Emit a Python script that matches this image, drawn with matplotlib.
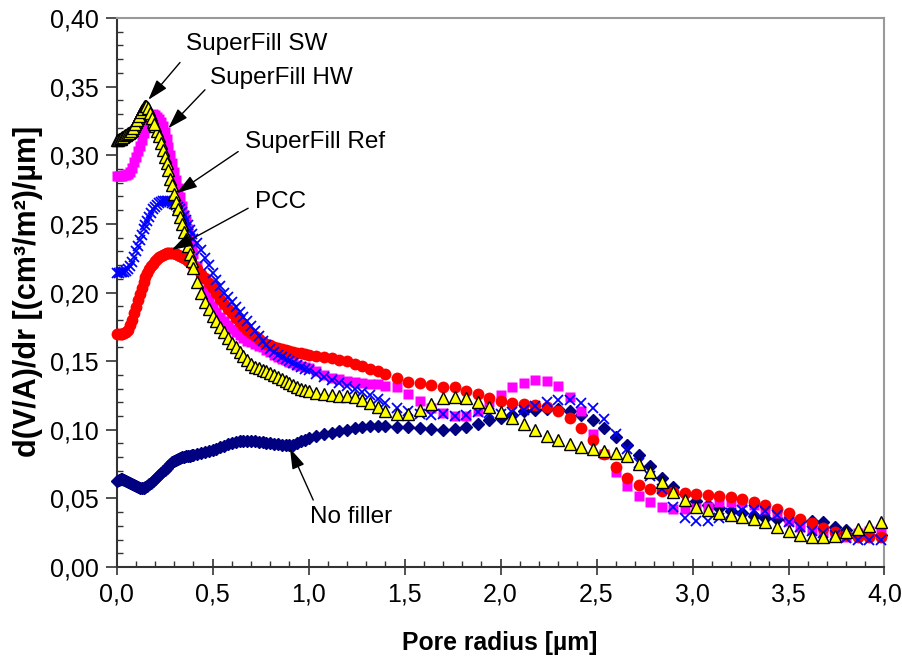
import matplotlib
matplotlib.use("Agg")
import matplotlib.pyplot as plt
from matplotlib.ticker import MultipleLocator, FuncFormatter

plt.rcParams['font.family'] = ['Liberation Sans', 'DejaVu Sans']

# pore radius grid [µm]
radius = [
    0.00, 0.01, 0.02, 0.03, 0.04, 0.05, 0.06, 0.07, 0.08, 0.09,
    0.10, 0.11, 0.12, 0.13, 0.14, 0.15, 0.16, 0.17, 0.18, 0.19,
    0.20, 0.21, 0.22, 0.23, 0.24, 0.25, 0.26, 0.27, 0.28, 0.29,
    0.30, 0.31, 0.32, 0.33, 0.34, 0.35, 0.36, 0.37, 0.38, 0.39,
    0.40,
    0.42, 0.44, 0.46, 0.48, 0.50, 0.52, 0.54, 0.56, 0.58, 0.60,
    0.62, 0.64, 0.66, 0.68, 0.70, 0.72, 0.74, 0.76, 0.78, 0.80,
    0.82, 0.84, 0.86, 0.88, 0.90, 0.92, 0.94, 0.96, 0.98, 1.00,
    1.04, 1.08, 1.12, 1.16, 1.20, 1.24, 1.28, 1.32, 1.36, 1.40,
    1.46, 1.52, 1.58, 1.64, 1.70, 1.76, 1.82, 1.88, 1.94, 2.00,
    2.06, 2.12, 2.18, 2.24, 2.30, 2.36, 2.42, 2.48, 2.54, 2.60,
    2.66, 2.72, 2.78, 2.84, 2.90, 2.96, 3.02, 3.08, 3.14, 3.20,
    3.26, 3.32, 3.38, 3.44, 3.50, 3.56, 3.62, 3.68, 3.74, 3.80,
    3.86, 3.92, 3.98,
]

no_filler = [
    0.063, 0.0635, 0.064, 0.0638, 0.0632, 0.0625, 0.0618, 0.061, 0.0602, 0.0595,
    0.0588, 0.0582, 0.0578, 0.0576, 0.0577, 0.0582, 0.059, 0.0602, 0.0615, 0.0628,
    0.0642, 0.0656, 0.067, 0.0683, 0.0697, 0.071, 0.0722, 0.0735, 0.0748, 0.0762,
    0.0772, 0.0781, 0.0788, 0.0795, 0.08, 0.0805, 0.0808, 0.081, 0.0812, 0.0815,
    0.0818,
    0.0822, 0.0828, 0.0835, 0.0842, 0.085, 0.086, 0.0872, 0.0885, 0.0897, 0.0907,
    0.0914, 0.0918, 0.092, 0.092, 0.0918, 0.0915, 0.0912, 0.091, 0.0907, 0.0903,
    0.0898, 0.0893, 0.0889, 0.0886, 0.0887, 0.0892, 0.0902, 0.0915, 0.0928, 0.094,
    0.0957, 0.097, 0.0978, 0.0988, 0.1, 0.1012, 0.102, 0.1024, 0.1025, 0.1024,
    0.1022, 0.102, 0.1012, 0.1002, 0.0995, 0.1005, 0.102, 0.104, 0.1068, 0.1085,
    0.111, 0.1135, 0.1145, 0.115, 0.115, 0.1135, 0.111, 0.107, 0.101, 0.095,
    0.0888, 0.0815, 0.0735, 0.0648, 0.058, 0.053, 0.048, 0.0455, 0.043, 0.041,
    0.0395, 0.0375, 0.036, 0.0348, 0.034, 0.0336, 0.0333, 0.0325, 0.0292, 0.0268,
    0.0245, 0.0232, 0.023,
]

superfill_sw = [
    0.311, 0.3115, 0.312, 0.313, 0.314, 0.315, 0.316, 0.317, 0.3185, 0.321,
    0.324, 0.327, 0.330, 0.333, 0.335, 0.336, 0.3355, 0.333, 0.329, 0.3245,
    0.321, 0.318, 0.314, 0.309, 0.304, 0.299, 0.294, 0.289, 0.283, 0.278,
    0.272, 0.266, 0.261, 0.255, 0.250, 0.244, 0.239, 0.234, 0.228, 0.223,
    0.218,
    0.208, 0.200, 0.193, 0.188, 0.183, 0.179, 0.175, 0.171, 0.167, 0.163,
    0.160, 0.157, 0.154, 0.151, 0.148, 0.146, 0.1447, 0.1437, 0.1425, 0.1412,
    0.140, 0.1385, 0.137, 0.1355, 0.134, 0.1327, 0.1313, 0.130, 0.129, 0.128,
    0.1268, 0.126, 0.1253, 0.1248, 0.1243, 0.1236, 0.122, 0.1195, 0.1165, 0.1135,
    0.1113, 0.1118, 0.1147, 0.119, 0.1235, 0.1242, 0.1228, 0.1205, 0.1165, 0.1128,
    0.1083, 0.104, 0.0995, 0.0953, 0.0925, 0.0893, 0.0875, 0.0862, 0.0847, 0.0834,
    0.0806, 0.0753, 0.069, 0.062, 0.0545, 0.0486, 0.044, 0.0412, 0.0393, 0.0378,
    0.0365, 0.0348, 0.0325, 0.0293, 0.026, 0.0232, 0.0218, 0.0215, 0.0225, 0.0252,
    0.0277, 0.030, 0.0325,
]

# SuperFill SW was measured more densely at small radii
radius_sw_fine = [
    0.005, 0.015, 0.025, 0.035, 0.045, 0.055, 0.065, 0.075, 0.085, 0.095,
    0.105, 0.115, 0.125, 0.135, 0.145, 0.155, 0.165, 0.175, 0.185, 0.195,
]
superfill_sw_fine = [
    0.3112, 0.3118, 0.3125, 0.3135, 0.3145, 0.3155, 0.3165, 0.3177, 0.3197, 0.3225,
    0.3255, 0.3285, 0.3315, 0.334, 0.3357, 0.336, 0.3345, 0.331, 0.327, 0.3228,
]

superfill_hw = [
    0.285, 0.285, 0.285, 0.2852, 0.2855, 0.2858, 0.2862, 0.288, 0.291, 0.295,
    0.299, 0.303, 0.307, 0.311, 0.316, 0.320, 0.324, 0.327, 0.329, 0.330,
    0.3295, 0.328, 0.3265, 0.324, 0.321, 0.317, 0.312, 0.306, 0.300, 0.294,
    0.288, 0.282, 0.276, 0.2695, 0.263, 0.2565, 0.252, 0.246, 0.240, 0.234,
    0.228,
    0.219, 0.210, 0.202, 0.195, 0.190, 0.186, 0.1825, 0.179, 0.176, 0.1735,
    0.171, 0.1688, 0.1668, 0.165, 0.1637, 0.1625, 0.1612, 0.160, 0.1583, 0.1565,
    0.1547, 0.153, 0.1518, 0.1506, 0.1495, 0.1485, 0.1475, 0.1465, 0.1458, 0.145,
    0.1425, 0.140, 0.138, 0.1368, 0.1358, 0.135, 0.134, 0.1335, 0.133, 0.132,
    0.131, 0.126, 0.121, 0.116, 0.112, 0.110, 0.110, 0.1135, 0.120, 0.1255,
    0.131, 0.134, 0.1363, 0.1358, 0.132, 0.1236, 0.1135, 0.097, 0.0825, 0.069,
    0.059, 0.0515, 0.047, 0.044, 0.0426, 0.0426, 0.043, 0.0438, 0.047, 0.0474,
    0.0474, 0.0455, 0.042, 0.039, 0.0335, 0.0295, 0.027, 0.0255, 0.023, 0.022,
    0.025, 0.0265, 0.0275,
]

superfill_ref = [
    0.2144, 0.2145, 0.2148, 0.215, 0.2153, 0.2158, 0.217, 0.219, 0.222, 0.226,
    0.230, 0.234, 0.238, 0.242, 0.246, 0.249, 0.252, 0.255, 0.258, 0.2605,
    0.2625, 0.264, 0.265, 0.266, 0.2664, 0.2667, 0.2668, 0.2667, 0.2664, 0.2655,
    0.2645, 0.2635, 0.2625, 0.261, 0.2585, 0.2555, 0.2525, 0.249, 0.2455, 0.2425,
    0.239,
    0.236, 0.231, 0.2255, 0.22, 0.2145, 0.209, 0.2045, 0.200, 0.1965, 0.193,
    0.1895, 0.186, 0.1825, 0.179, 0.1755, 0.172, 0.1685, 0.165, 0.162, 0.159,
    0.1565, 0.1545, 0.1528, 0.1512, 0.1498, 0.1485, 0.147, 0.1458, 0.1445, 0.1432,
    0.1408, 0.1385, 0.1362, 0.134, 0.132, 0.1298, 0.1275, 0.125, 0.1222, 0.1195,
    0.1158, 0.1135, 0.1115, 0.111, 0.1113, 0.110, 0.1105, 0.1128, 0.112, 0.1118,
    0.1128, 0.1145, 0.117, 0.12, 0.1215, 0.1217, 0.1192, 0.1155, 0.1075, 0.097,
    0.086, 0.0755, 0.0665, 0.057, 0.0435, 0.036, 0.0332, 0.0335, 0.036, 0.0395,
    0.0412, 0.0414, 0.0405, 0.0378, 0.033, 0.029, 0.0262, 0.0245, 0.0232, 0.0212,
    0.0198, 0.0196, 0.0196,
]

pcc = [
    0.170, 0.1697, 0.1697, 0.170, 0.1703, 0.1712, 0.173, 0.176, 0.180, 0.185,
    0.1895, 0.1945, 0.199, 0.2035, 0.2075, 0.211, 0.214, 0.2168, 0.219, 0.221,
    0.2228, 0.2243, 0.2256, 0.2266, 0.2275, 0.2281, 0.2286, 0.2288, 0.2289, 0.2288,
    0.2285, 0.2281, 0.2276, 0.2269, 0.2261, 0.2252, 0.2242, 0.2231, 0.222, 0.2208,
    0.2195,
    0.2168, 0.2138, 0.2105, 0.207, 0.2032, 0.1995, 0.1955, 0.1918, 0.1882, 0.1848,
    0.1815, 0.1785, 0.1755, 0.1728, 0.1703, 0.168, 0.166, 0.1642, 0.1627, 0.1614,
    0.1603, 0.1594, 0.1586, 0.1579, 0.1573, 0.1567, 0.1562, 0.1557, 0.1552, 0.1548,
    0.154, 0.1532, 0.1522, 0.151, 0.1498, 0.1482, 0.1465, 0.1445, 0.1425, 0.1405,
    0.1375, 0.135, 0.1338, 0.1325, 0.1315, 0.131, 0.128, 0.1262, 0.1228, 0.121,
    0.1198, 0.1187, 0.1178, 0.1169, 0.114, 0.1085, 0.101, 0.0925, 0.082, 0.0728,
    0.065, 0.0595, 0.0568, 0.0553, 0.0545, 0.0538, 0.0532, 0.0526, 0.0518, 0.0508,
    0.0495, 0.0475, 0.045, 0.0422, 0.039, 0.0353, 0.0318, 0.0285, 0.0258, 0.0236,
    0.0222, 0.022, 0.022,
]

labels = ["SuperFill SW", "SuperFill HW", "SuperFill Ref", "PCC", "No filler"]
label_pos = [(0.361, 0.381), (0.486, 0.3564), (0.668, 0.310), (0.720, 0.2663), (1.007, 0.0367)]
arrow_tail = [(0.330, 0.3676), (0.460, 0.3477), (0.633, 0.3027), (0.685, 0.2614), (1.024, 0.0488)]
arrow_tip = [(0.165, 0.3404), (0.269, 0.3197), (0.3125, 0.2724), (0.286, 0.2310), (0.9026, 0.0865)]

fig = plt.figure(figsize=(9.03, 6.60), dpi=100)
ax = fig.add_axes([0.1292, 0.1409, 0.8503, 0.8318])

ax.plot(radius, no_filler, ls='none', marker='D', ms=6.5, color='#000080',
        clip_on=False, zorder=3)
ax.plot(radius, superfill_hw, ls='none', marker='s', ms=7, color='#FF00FF',
        mec='none', clip_on=False, zorder=4)
ax.plot(radius, pcc, ls='none', marker='o', ms=8.5, color='#FF0000',
        mec='none', clip_on=False, zorder=5)
ax.plot(radius, superfill_ref, ls='none', marker='x', ms=7, mew=1.3,
        color='#0000FF', clip_on=False, zorder=6)
ax.plot(radius + radius_sw_fine, superfill_sw + superfill_sw_fine, ls='none',
        marker='^', ms=8, mfc='#FFFF00', mec='black', mew=1.0, clip_on=False, zorder=7)

for lab, pos, tail, tip in zip(labels, label_pos, arrow_tail, arrow_tip):
    ax.text(pos[0], pos[1], lab, fontsize=17.5, ha='left', va='center', zorder=10)
    ax.annotate('', xy=tip, xytext=tail, zorder=10,
                arrowprops=dict(arrowstyle='-|>,head_length=0.7,head_width=0.22',
                                color='black', lw=1.0, mutation_scale=18,
                                shrinkA=0, shrinkB=0))

ax.set_xlim(0, 4.0)
ax.set_ylim(0, 0.40)
ax.xaxis.set_major_locator(MultipleLocator(0.5))
ax.xaxis.set_minor_locator(MultipleLocator(0.1))
ax.yaxis.set_major_locator(MultipleLocator(0.05))
ax.yaxis.set_minor_locator(MultipleLocator(0.01))
ax.xaxis.set_major_formatter(FuncFormatter(lambda v, p: f"{v:.1f}".replace('.', ',')))
ax.yaxis.set_major_formatter(FuncFormatter(lambda v, p: f"{v:.2f}".replace('.', ',')))

ax.tick_params(axis='x', which='major', direction='inout', length=12, width=1.2,
               color='#333333', labelsize=18, pad=5)
ax.tick_params(axis='y', which='major', direction='out', length=8, width=1.2,
               color='#333333', labelsize=18, pad=5)
ax.tick_params(which='minor', direction='in', length=4, width=1.0, color='#333333')

for side in ['left', 'bottom']:
    ax.spines[side].set_color('#333333')
    ax.spines[side].set_linewidth(1.5)
for side in ['top', 'right']:
    ax.spines[side].set_color('#999999')
    ax.spines[side].set_linewidth(1.5)

fig.text(500 / 903, 1 - 643 / 660, "Pore radius [µm]", fontsize=17.8,
         fontweight='bold', ha='center', va='center')
fig.text(28 / 903, 1 - 291 / 660, "d(V/A)/dr [(cm³/m²)/µm]", fontsize=22,
         fontweight='bold', rotation=90, ha='center', va='center')

fig.savefig("out.png", dpi=100)
